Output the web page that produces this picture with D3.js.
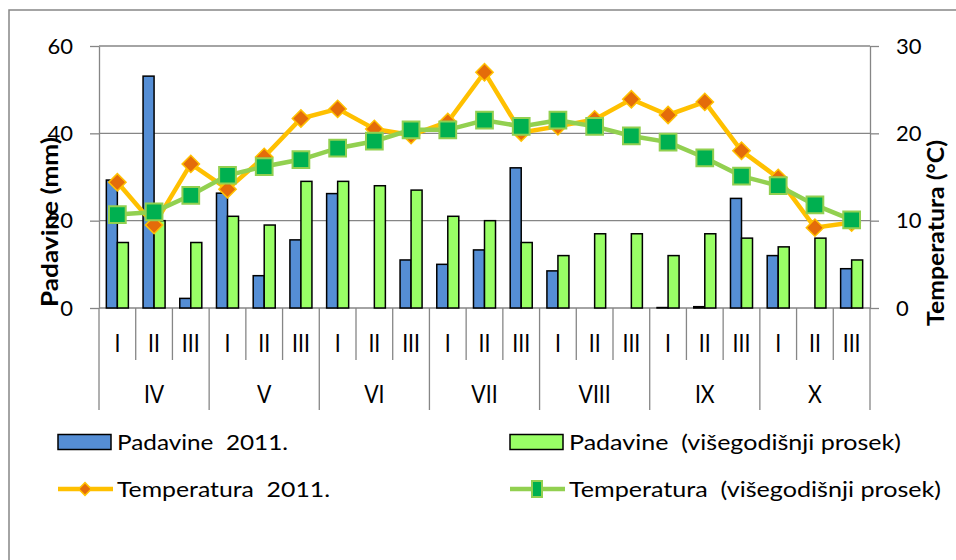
<!DOCTYPE html>
<html>
<head>
<meta charset="utf-8">
<script src="https://cdn.jsdelivr.net/npm/d3@7"></script>
<style>
  body { margin: 0; background: #fff; }
  svg { display: block; font-family: Lato, "Open Sans", sans-serif; }
</style>
</head>
<body>
<svg id="chart" width="956" height="560"></svg>
<script>
// decades within each month, months IV..X
const months = ["IV", "V", "VI", "VII", "VIII", "IX", "X"];
const decades = ["I", "II", "III"];

// precipitation, mm (left axis)
const rain2011 = [29.3, 53.1, 2.2, 26.3, 7.4, 15.6, 26.2, 0, 11, 10, 13.3, 32.1, 8.5, 0, 0, 0.1, 0.3, 25.1, 12, 0, 9];
const rainAvg = [15, 20, 15, 21, 19, 29, 29, 28, 27, 21, 20, 15, 12, 17, 17, 12, 17, 16, 14, 16, 11];

// temperature, deg C (right axis)
const temp2011 = [14.4, 9.5, 16.5, 13.6, 17.3, 21.7, 22.8, 20.5, 19.8, 21.3, 27.0, 20.1, 20.8, 21.6, 23.9, 22.1, 23.6, 18.0, 14.9, 9.2, 9.8];
const tempAvg = [10.7, 11.0, 12.9, 15.2, 16.2, 17.0, 18.3, 19.1, 20.4, 20.4, 21.5, 20.8, 21.5, 20.8, 19.7, 19.0, 17.2, 15.1, 14.0, 11.8, 10.1];

const rainTicks = [0, 20, 40, 60];
const tempTicks = [0, 10, 20, 30];

const legendNames = ["Padavine  2011.", "Padavine  (višegodišnji prosek)", "Temperatura  2011.", "Temperatura  (višegodišnji prosek)"];

const svg = d3.select("#chart");
const grey = "#868686";
const plot = { left: 99, right: 870, top: 46, bottom: 308 };

const idx = d3.range(months.length * decades.length);

const x = d3.scaleBand()
  .domain(idx)
  .range([plot.left, plot.right])
  .paddingInner(0.4)
  .paddingOuter(0.2);
const xSub = d3.scaleBand()
  .domain(["r2011", "ravg"])
  .range([0, x.bandwidth()]);
const yRain = d3.scaleLinear().domain([0, 60]).range([plot.bottom, plot.top]);
const yTemp = d3.scaleLinear().domain([0, 30]).range([plot.bottom, plot.top]);

const cx = (i) => x(i) + x.bandwidth() / 2;
const edge = (i) => x(i) - x.paddingOuter() * x.step();

// outer frame
svg.append("rect")
  .attr("x", 9).attr("y", 10)
  .attr("width", 980).attr("height", 600)
  .attr("fill", "none").attr("stroke", grey).attr("stroke-width", 1.5);

// gridlines
svg.append("g")
  .selectAll("line")
  .data(rainTicks.filter((d) => d > 0))
  .join("line")
  .attr("x1", plot.left).attr("x2", plot.right)
  .attr("y1", (d) => yRain(d)).attr("y2", (d) => yRain(d))
  .attr("stroke", grey).attr("stroke-width", 1.3);

// left axis
const axisL = svg.append("g")
  .attr("transform", `translate(${plot.left},0)`)
  .call(d3.axisLeft(yRain).tickValues(rainTicks).tickSize(9).tickPadding(17).tickSizeOuter(0));
// right axis
const axisR = svg.append("g")
  .attr("transform", `translate(${plot.right},0)`)
  .call(d3.axisRight(yTemp).tickValues(tempTicks).tickSize(9).tickPadding(17).tickSizeOuter(0));

[axisL, axisR].forEach((g) => {
  g.select(".domain").attr("stroke", grey).attr("stroke-width", 1.3);
  g.selectAll(".tick line").attr("stroke", grey).attr("stroke-width", 1.3);
  g.selectAll(".tick text")
    .attr("font-family", "Lato, sans-serif")
    .attr("font-size", 22)
    .attr("fill", "#000");
});

// category axis: baseline + separators
svg.append("line")
  .attr("x1", plot.left).attr("x2", plot.right)
  .attr("y1", plot.bottom).attr("y2", plot.bottom)
  .attr("stroke", grey).attr("stroke-width", 1.3);

svg.append("g")
  .selectAll("line")
  .data(d3.range(idx.length + 1))
  .join("line")
  .attr("x1", (i) => (i < idx.length ? edge(i) : plot.right))
  .attr("x2", (i) => (i < idx.length ? edge(i) : plot.right))
  .attr("y1", plot.bottom)
  .attr("y2", (i) => (i % 3 === 0 ? 410 : 360))
  .attr("stroke", grey).attr("stroke-width", 1.3);

// narrow, tall category labels like the original
svg.append("g")
  .selectAll("text")
  .data(idx)
  .join("text")
  .attr("transform", (i) => `translate(${cx(i)},343) scale(0.85,1)`)
  .attr("dy", "0.36em")
  .attr("text-anchor", "middle")
  .attr("font-size", 25)
  .text((i) => decades[i % 3]);

svg.append("g")
  .selectAll("text")
  .data(months)
  .join("text")
  .attr("transform", (d, m) => `translate(${cx(m * 3 + 1)},394) scale(0.85,1)`)
  .attr("dy", "0.36em")
  .attr("text-anchor", "middle")
  .attr("font-size", 25)
  .text((d) => d);

// bars
const barGroup = svg.append("g");
const drawBars = (values, key, fill) => {
  barGroup.append("g")
    .selectAll("rect")
    .data(values)
    .join("rect")
    .attr("x", (d, i) => x(i) + xSub(key))
    .attr("y", (d) => yRain(d))
    .attr("width", xSub.bandwidth())
    .attr("height", (d) => yRain(0) - yRain(d))
    .attr("fill", fill)
    .attr("stroke", "#000")
    .attr("stroke-width", 1.5);
};
drawBars(rain2011, "r2011", "#558ED5");
drawBars(rainAvg, "ravg", "#99FF66");

// lines
const line = d3.line().x((d, i) => cx(i)).y((d) => yTemp(d));
const diamond = d3.symbol(d3.symbolSquare, 150);
const square = d3.symbol(d3.symbolSquare, 280);

svg.append("path")
  .datum(temp2011)
  .attr("d", line)
  .attr("fill", "none").attr("stroke", "#FFC000").attr("stroke-width", 4.5);
svg.append("g")
  .selectAll("path")
  .data(temp2011)
  .join("path")
  .attr("d", diamond)
  .attr("transform", (d, i) => `translate(${cx(i)},${yTemp(d)}) rotate(45)`)
  .attr("fill", "#E46C0A").attr("stroke", "#FFC000").attr("stroke-width", 1.5);

svg.append("path")
  .datum(tempAvg)
  .attr("d", line)
  .attr("fill", "none").attr("stroke", "#92D050").attr("stroke-width", 4.5);
svg.append("g")
  .selectAll("path")
  .data(tempAvg)
  .join("path")
  .attr("d", square)
  .attr("transform", (d, i) => `translate(${cx(i)},${yTemp(d)})`)
  .attr("fill", "#00B050").attr("stroke", "#92D050").attr("stroke-width", 2);

// axis titles
svg.append("text")
  .attr("transform", "translate(58,222) rotate(-90)")
  .attr("text-anchor", "middle")
  .attr("font-size", 22).attr("font-weight", "bold")
  .attr("textLength", 170).attr("lengthAdjust", "spacingAndGlyphs")
  .text("Padavine (mm)");
svg.append("text")
  .attr("transform", "translate(944,233) rotate(-90)")
  .attr("text-anchor", "middle")
  .attr("font-size", 22).attr("font-weight", "bold")
  .attr("textLength", 186).attr("lengthAdjust", "spacingAndGlyphs")
  .text("Temperatura (°C)");

// legend
const legendCols = [58, 510];
const legendRows = [442, 489];
const legendWidths = [171, 332, 213, 372];
const legend = svg.append("g");

legendNames.forEach((name, k) => {
  const lx = legendCols[k % 2];
  const ly = legendRows[Math.floor(k / 2)];
  const g = legend.append("g").attr("transform", `translate(${lx},${ly})`);
  if (k === 0 || k === 1) {
    g.append("rect")
      .attr("x", 0).attr("y", -7.5)
      .attr("width", 53).attr("height", 15)
      .attr("fill", k === 0 ? "#558ED5" : "#99FF66")
      .attr("stroke", "#000").attr("stroke-width", 1.5);
  } else {
    g.append("line")
      .attr("x1", 0).attr("x2", 55).attr("y1", 0).attr("y2", 0)
      .attr("stroke", k === 2 ? "#FFC000" : "#92D050").attr("stroke-width", 4.5);
    if (k === 2) {
      g.append("path")
        .attr("d", d3.symbol(d3.symbolSquare, 80))
        .attr("transform", "translate(27,0) rotate(45)")
        .attr("fill", "#E46C0A").attr("stroke", "#FFC000").attr("stroke-width", 1.5);
    } else {
      g.append("rect")
        .attr("x", 22).attr("y", -8)
        .attr("width", 10).attr("height", 16)
        .attr("fill", "#00B050").attr("stroke", "#92D050").attr("stroke-width", 2);
    }
  }
  g.append("text")
    .attr("x", 59)
    .attr("y", 7.5)
    .attr("font-size", 21)
    .style("white-space", "pre")
    .attr("textLength", legendWidths[k])
    .attr("lengthAdjust", "spacingAndGlyphs")
    .text(name);
});
</script>
</body>
</html>
